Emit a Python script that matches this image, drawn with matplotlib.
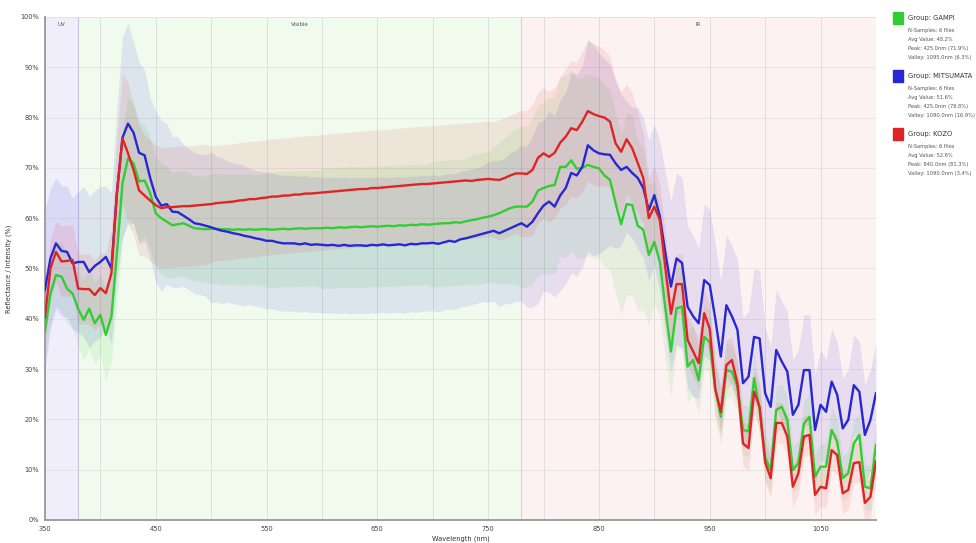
import numpy as np
import matplotlib
matplotlib.use("Agg")
import matplotlib.pyplot as plt

# wavelength grid, 5 nm steps
wavelength = np.arange(350, 1101, 5)

gampi_mean = [
    37.4, 45.0, 48.7, 48.4, 46.0, 45.0, 42.0, 39.8, 42.0, 39.1,
    40.8, 36.8, 40.4, 53.0, 66.9, 71.9, 70.9, 67.3, 67.5, 65.0,
    61.0, 60.0, 59.3, 58.6, 58.8, 59.0, 58.5, 58.0, 57.9, 57.8,
    57.9, 57.9, 57.8, 57.8, 57.7, 57.8, 57.7, 57.8, 57.7, 57.8,
    57.8, 57.7, 57.8, 57.9, 57.8, 57.9, 58.0, 57.9, 58.0, 58.0,
    58.0, 58.1, 58.0, 58.2, 58.1, 58.2, 58.3, 58.2, 58.3, 58.4,
    58.3, 58.4, 58.5, 58.4, 58.6, 58.5, 58.7, 58.6, 58.8, 58.7,
    58.8, 58.9, 59.0, 59.0, 59.2, 59.1, 59.4, 59.6, 59.8, 60.1,
    60.3, 60.6, 61.0, 61.5, 62.0, 62.3, 62.3, 62.3, 63.3, 65.5,
    66.0, 66.4, 66.6, 70.2, 70.2, 71.5, 69.8, 70.0, 70.6, 70.2,
    69.9, 68.5, 67.6, 63.0, 58.8, 62.8, 62.6, 58.5, 57.7, 52.7,
    55.3, 51.3, 42.0, 33.5, 42.1, 42.4, 30.5, 31.8, 27.8, 36.4,
    35.4, 26.0, 20.5, 29.8, 29.5, 26.5, 17.9, 17.6, 28.2, 21.9,
    12.5, 9.9, 21.9, 22.5, 19.9, 9.9, 11.3, 19.2, 20.5, 8.6,
    10.6, 10.6, 17.9, 15.6, 8.3, 9.3, 15.2, 16.9, 6.6, 6.3,
    14.9,
]
gampi_std = [
    5, 6, 6, 7, 7, 7, 7, 8, 8, 8,
    8, 9, 9, 10, 11, 12, 12, 12, 11, 11,
    11, 11, 11, 10.5, 10.5, 10.5, 10.5, 10.5, 10.5, 10.5,
    11, 11, 11, 11, 11, 11, 11, 11, 11, 11,
    11.5, 11.5, 11.5, 11.5, 11.5, 11.5, 11.5, 11.5, 11.5, 11.5,
    12, 12, 12, 12, 12, 12, 12, 12, 12, 12,
    12, 12, 12, 12, 12, 12, 12, 12, 12, 12,
    12.5, 12.5, 12.5, 12.5, 12.5, 12.5, 12.5, 13, 13, 13,
    13, 13.5, 14, 14.5, 15, 15.5, 16, 16, 16.5, 17,
    17, 17.5, 17.5, 18, 18, 18, 18, 18, 18, 18,
    18, 18, 18, 18, 18, 18, 18, 17, 16, 14,
    12, 11, 10, 9, 8, 8, 7, 7, 6.5, 6.5,
    6, 6, 5.5, 5.5, 5, 5, 5, 5, 5, 5,
    4.5, 4.5, 4.5, 4.5, 4.5, 4.5, 4.5, 4.5, 4.5, 4.5,
    4.5, 4.5, 4.5, 4.5, 4.5, 4.5, 4.5, 4.5, 4.5, 4.5,
    4.5,
]

mitsumata_mean = [
    45.7, 52.0, 55.0, 53.5, 53.3, 51.0, 51.3, 51.3, 49.3, 50.5,
    51.3, 52.3, 50.0, 65.0, 76.0, 78.8, 77.0, 73.0, 72.5, 68.0,
    64.3, 62.5, 62.8, 61.3, 61.2, 60.5, 59.8, 59.0, 58.8, 58.5,
    58.2, 57.8, 57.5, 57.3, 57.0, 56.8, 56.5, 56.3, 56.0, 55.8,
    55.5, 55.5, 55.2, 55.0, 55.0, 55.0, 54.8, 55.0, 54.7, 54.8,
    54.7, 54.6, 54.7, 54.5, 54.7, 54.5, 54.6, 54.6, 54.5, 54.7,
    54.6, 54.8, 54.6, 54.7, 54.8, 54.6, 54.9, 54.8, 55.0, 55.0,
    55.1, 54.9, 55.2, 55.5, 55.3, 55.8, 56.0, 56.3, 56.6, 56.9,
    57.2, 57.5, 57.0, 57.5, 58.0, 58.5, 59.0, 58.3, 59.3, 61.0,
    62.5, 63.3, 62.3, 64.5, 66.0, 69.0, 68.5, 70.2, 74.5, 73.5,
    72.9, 72.7, 72.6, 70.9, 69.6, 70.2, 69.0, 68.0, 66.0, 61.6,
    64.6, 60.3, 53.0, 46.4, 52.0, 51.1, 42.4, 40.5, 39.1, 47.7,
    46.7, 40.0, 32.5, 42.7, 40.5, 37.8, 27.2, 28.5, 36.4, 36.1,
    25.2, 22.5, 33.8, 31.5, 29.5, 20.9, 22.9, 29.8, 29.8, 17.9,
    22.9, 21.5, 27.5, 24.9, 18.2, 19.9, 26.8, 25.5, 16.9, 19.9,
    25.2,
]
mitsumata_std = [
    16, 14, 13, 13, 13, 13, 14, 15, 15, 15,
    15, 14, 15, 17, 20, 20, 18, 18, 17, 16,
    17, 17, 16, 15, 15, 14, 14, 14, 14, 14,
    15, 14.5, 14.5, 14, 14, 14, 14, 13.5, 13.5, 13.5,
    13.5, 13.5, 13.5, 13.5, 13.5, 13.5, 13.5, 13.5, 13.5, 13.5,
    13.5, 13.5, 13.5, 13.5, 13.5, 13.5, 13.5, 13.5, 13.5, 13.5,
    13.5, 13.5, 13.5, 13.5, 13.5, 13.5, 13.5, 13.5, 13.5, 13.5,
    13.5, 13.5, 13.5, 13.5, 13.5, 13.5, 13.5, 13.5, 13.5, 13.5,
    14, 14, 14.5, 14.5, 15, 15, 15.5, 16, 17, 18,
    17, 18, 18, 19, 19, 20, 20, 20, 21, 21,
    20, 19, 18, 17, 15, 13, 13, 14, 14, 14,
    14, 15, 16, 17, 17, 17, 16, 16, 15, 15,
    15, 15, 15, 14, 14, 14, 13, 13, 13.5, 13.5,
    13, 12, 12, 12, 12, 11, 11, 11, 11, 11,
    11, 10.5, 10.5, 10.5, 10, 10, 10, 10, 10, 10,
    10,
]

kozo_mean = [
    40.2, 50.0, 53.3, 51.4, 51.5, 51.7, 46.0, 45.9, 45.9, 44.7,
    46.1, 45.1, 49.0, 65.0, 75.9, 72.9, 69.6, 65.5, 64.5, 63.5,
    62.6, 62.0, 62.2, 62.2, 62.3, 62.4, 62.4, 62.5, 62.6, 62.7,
    62.8, 63.0, 63.1, 63.2, 63.3, 63.5, 63.6, 63.8, 63.8, 64.0,
    64.1, 64.3, 64.3, 64.5, 64.5, 64.7, 64.7, 64.9, 64.9, 65.0,
    65.1, 65.2, 65.3, 65.4, 65.5, 65.6, 65.7, 65.8, 65.8, 66.0,
    66.0, 66.1, 66.2, 66.3, 66.4, 66.5, 66.6, 66.7, 66.8, 66.8,
    66.9, 67.0, 67.1, 67.2, 67.3, 67.4, 67.5, 67.4, 67.6, 67.7,
    67.8, 67.7, 67.6, 68.0, 68.5, 68.9, 68.9, 68.8, 69.6, 72.0,
    72.9, 72.2, 73.0, 75.0, 76.2, 77.9, 77.5, 79.2, 81.3, 80.7,
    80.3, 80.0, 79.2, 74.9, 73.2, 75.7, 73.9, 71.0, 68.0, 60.0,
    62.3, 59.6, 50.0, 41.0, 46.9, 46.9, 35.8, 33.5, 31.2, 41.1,
    38.0, 26.0, 21.5, 30.8, 31.8, 27.2, 15.2, 14.3, 25.5, 22.5,
    11.5, 8.3, 19.3, 19.3, 16.6, 6.6, 9.3, 16.6, 16.9, 5.0,
    6.6, 6.3, 13.9, 12.9, 5.3, 6.0, 11.3, 11.5, 3.4, 4.6,
    11.6,
]
kozo_std = [
    5, 6, 6, 7, 7, 7, 7, 7, 7, 7,
    7, 8, 9, 11, 13, 14, 13, 13, 12, 12,
    12, 12, 12, 12, 12, 12, 12, 12, 12, 12,
    11.5, 11.5, 11.5, 11.5, 11.5, 11.5, 11.5, 11.5, 11.5, 11.5,
    11.5, 11.5, 11.5, 11.5, 11.5, 11.5, 11.5, 11.5, 11.5, 11.5,
    11.5, 11.5, 11.5, 11.5, 11.5, 11.5, 11.5, 11.5, 11.5, 11.5,
    11.5, 11.5, 11.5, 11.5, 11.5, 11.5, 11.5, 11.5, 11.5, 11.5,
    11.5, 11.5, 11.5, 11.5, 11.5, 11.5, 11.5, 11.5, 11.5, 11.5,
    11.5, 11.5, 12, 12, 12, 12, 12.5, 12.5, 13, 13,
    13, 13, 13, 13, 13.5, 13.5, 13.5, 14, 14, 14,
    14, 13.5, 13, 12, 12, 11, 11, 10, 9, 8,
    8, 7, 7, 6, 6, 6, 5, 5, 5, 5,
    5, 5, 5, 5, 4.5, 4.5, 4.5, 4.5, 4.5, 4.5,
    4, 4, 4, 4, 4, 4, 4, 4, 4, 4,
    4, 4, 4, 4, 4, 4, 4, 4, 4, 4,
    4,
]

group_names = ["GAMPI", "MITSUMATA", "KOZO"]
group_colors = ["#33cc33", "#2727d6", "#e02424"]
legend_lines = [
    ["N-Samples: 6 files", "Avg Value: 48.2%", "Peak: 425.0nm (71.9%)", "Valley: 1095.0nm (6.3%)"],
    ["N-Samples: 6 files", "Avg Value: 51.6%", "Peak: 425.0nm (78.8%)", "Valley: 1090.0nm (16.9%)"],
    ["N-Samples: 6 files", "Avg Value: 52.6%", "Peak: 840.0nm (81.3%)", "Valley: 1090.0nm (3.4%)"],
]

regions = [("UV", 350, 380, "#f1eefb"), ("Visible", 380, 780, "#f0fbee"), ("IR", 780, 1100, "#fdf2f2")]

fig = plt.figure(figsize=(9.76, 5.43), dpi=100)
ax = fig.add_axes([0.046, 0.0424, 0.8515, 0.9263])

for name, lo, hi, col in regions:
    ax.axvspan(lo, hi, color=col, zorder=0, lw=0)
    ax.text((lo + hi) / 2, 98.6, name, ha="center", va="center", fontsize=4, color="#555555")
ax.axvline(380, color="#c8c4e0", lw=0.8, zorder=1)
ax.axvline(780, color="#f0c8c8", lw=0.8, zorder=1)

means = [gampi_mean, mitsumata_mean, kozo_mean]
stds = [gampi_std, mitsumata_std, kozo_std]
for m, s, c in zip(means, stds, group_colors):
    m = np.array(m)
    s = np.array(s)
    ax.fill_between(wavelength, m - s, m + s, color=c, alpha=0.1, lw=0, zorder=2)
for m, c in zip(means, group_colors):
    ax.plot(wavelength, m, color=c, lw=1.7, zorder=3)

ax.set_xlim(350, 1100)
ax.set_ylim(0, 100)
ax.set_xticks(np.arange(350, 1100, 100))
ax.set_xticks(np.arange(350, 1101, 50), minor=True)
ax.set_yticks(np.arange(0, 101, 10))
ax.set_yticklabels([f"{v}%" for v in range(0, 101, 10)])
ax.grid(True, which="both", axis="x", color="#d8dcd8", lw=0.6, zorder=1)
ax.grid(True, which="major", axis="y", color="#e2e2e2", lw=0.6, zorder=1)
ax.set_axisbelow(True)
ax.tick_params(axis="both", which="both", length=0, labelsize=4.8, colors="#444444", pad=4)
for side in ["top", "right"]:
    ax.spines[side].set_visible(False)
for side in ["left", "bottom"]:
    ax.spines[side].set_color("#999999")
    ax.spines[side].set_linewidth(1.3)
ax.set_xlabel("Wavelength (nm)", fontsize=4.8, color="#333333", labelpad=3)
ax.set_ylabel("Reflectance / Intensity (%)", fontsize=4.8, color="#333333", labelpad=6)

# legend panel on the right
for i, (name, col, lines) in enumerate(zip(group_names, group_colors, legend_lines)):
    ytop = 0.978 - i * 0.1065
    fig.patches.append(plt.Rectangle((0.915, ytop - 0.022), 0.0105, 0.021,
                                     transform=fig.transFigure, color=col, figure=fig))
    fig.text(0.930, ytop - 0.011, f"Group: {name}", fontsize=4.9, color="#333333", va="center")
    for j, t in enumerate(lines):
        fig.text(0.930, ytop - 0.035 - j * 0.0165, t, fontsize=3.7, color="#555555", va="center")

fig.savefig("out.png", dpi=100)
